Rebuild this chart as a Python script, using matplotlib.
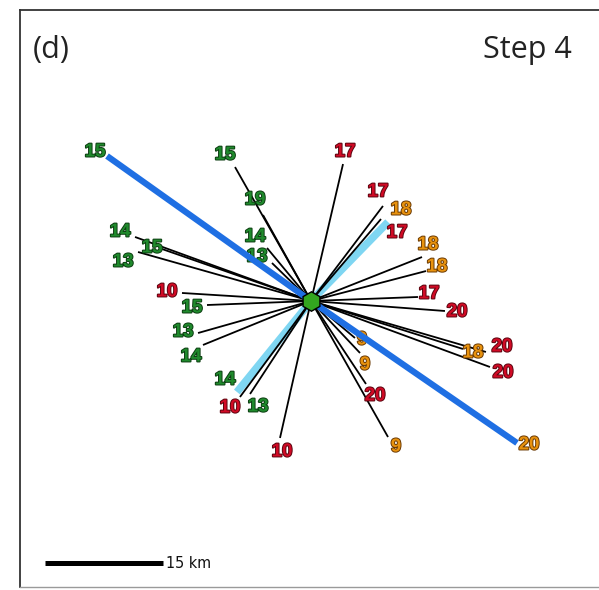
import matplotlib
matplotlib.use("Agg")
import matplotlib.pyplot as plt
import matplotlib.patheffects as pe
import numpy as np

# Ray end points, km east / km north of the epicentre
ray_east = [-9.66, -6.10, -5.59, -4.96, -22.37, -18.94, -21.99, -16.40, -13.22,
            -14.36, -13.73, -9.03, -7.75, -3.94, 4.07, 9.15, 8.90, 14.11, 14.62,
            13.60, 17.03, 19.32, 22.24, 22.75, 5.59, 6.23, 6.99, 9.79]
ray_north = [17.03, 10.93, 6.74, 4.83, 8.14, 6.61, 6.23, 1.02, -0.51,
             -4.07, -5.59, -12.20, -11.82, -17.41, 17.41, 12.08, 10.42, 5.59, 3.81,
             0.51, -1.27, -6.10, -6.48, -8.39, -4.70, -6.61, -10.55, -17.29]
ray_value = [15, 19, 14, 13, 14, 15, 13, 10, 15,
             13, 14, 10, 13, 10, 17, 17, 18, 18, 18,
             17, 20, 18, 20, 20, 9, 9, 20, 9]
ray_class = ["g", "g", "g", "g", "g", "g", "g", "r", "g",
             "g", "g", "r", "g", "r", "r", "r", "o", "o", "o",
             "r", "r", "o", "r", "r", "o", "o", "r", "o"]

# Light-blue highlighted rays
lb_east = [9.79, -9.41]
lb_north = [10.04, -11.57]
lb_value = [17, 14]
lb_class = ["r", "g"]

# Main blue axis rays
blue_east = [-25.93, 26.19]
blue_north = [18.43, -18.05]
blue_value = [15, 20]
blue_class = ["g", "o"]

scale_km = 15

# Label offsets from the ray tip (pixels, x right / y up)
ray_dx = [-10, -8, -12, -15, -15, -10, -15, -15, -15, -15, -12, -10, 8, 2,
          2, -5, 20, 6, 11, 11, 12, 10, 16, 13, 7, 5, 9, 8]
ray_dy = [12, 15, 11, 6, 5, 1, -10, 1, -3, 1, -12, -11, -13, -14,
          12, 14, 9, 12, 4, 3, -1, -4, 5, -6, -2, -12, -12, -10]
lb_dx = [9, -12]
lb_dy = [-11, 12]
blue_dx = [-12, 12]
blue_dy = [4, -2]

colors = {"g": "#1f8a2c", "r": "#d10a25", "o": "#e8920e"}
edge = {"g": "#0d3d12", "r": "#5a0610", "o": "#6a3a05"}

px_per_km = 118 / 15.0
W, H = 599, 590
cx, cy = 311, 301  # epicentre in figure pixels

fig = plt.figure(figsize=(W / 100, H / 100), dpi=100)
left, right, top, bottom = 20, 599, 10, 587
ax = fig.add_axes([left / W, (H - bottom) / H, (right - left) / W, (bottom - top) / H])
ax.set_xlim((left - cx) / px_per_km, (right - cx) / px_per_km)
ax.set_ylim((cy - bottom) / px_per_km, (cy - top) / px_per_km)
ax.set_xticks([])
ax.set_yticks([])
for s in ("left", "top"):
    ax.spines[s].set_color("#333333")
    ax.spines[s].set_linewidth(1.3)
ax.spines["bottom"].set_color("#9a9a9a")
ax.spines["bottom"].set_linewidth(1.0)
ax.spines["right"].set_visible(False)


def label(x, y, v, c, dx, dy, z):
    ax.annotate(str(v), (x, y), xytext=(dx, dy), textcoords="offset pixels",
                ha="center", va="center", fontsize=13.5, fontweight="bold",
                family=["Liberation Sans", "DejaVu Sans"], color=colors[c], zorder=z,
                path_effects=[pe.withStroke(linewidth=1.4, foreground=edge[c])])


for x, y in zip(ray_east, ray_north):
    ax.plot([0, x], [0, y], color="black", lw=1.3, zorder=2, solid_capstyle="butt")
for x, y in zip(lb_east, lb_north):
    ax.plot([0, x], [0, y], color="#7fd6f2", lw=5.5, zorder=1.5, solid_capstyle="butt")

for x, y, v, c, dx, dy in zip(ray_east, ray_north, ray_value, ray_class, ray_dx, ray_dy):
    label(x, y, v, c, dx, dy, 4)
for x, y, v, c, dx, dy in zip(lb_east, lb_north, lb_value, lb_class, lb_dx, lb_dy):
    label(x, y, v, c, dx, dy, 4)

for x, y in zip(blue_east, blue_north):
    ax.plot([0, x], [0, y], color="#1f6fe3", lw=4.5, zorder=5, solid_capstyle="butt")
for x, y, v, c, dx, dy in zip(blue_east, blue_north, blue_value, blue_class, blue_dx, blue_dy):
    label(x, y, v, c, dx, dy, 6)

ax.plot([0], [0], marker="h", ms=14, mfc="#33a61f", mec="black", mew=1.0, zorder=7)

# Scale bar
sb_x0 = (45 - cx) / px_per_km
sb_y = (cy - 563) / px_per_km
ax.plot([sb_x0, sb_x0 + scale_km], [sb_y, sb_y], color="black", lw=3.6,
        solid_capstyle="butt", zorder=3)
ax.text(sb_x0 + scale_km + 0.35, sb_y, f"{scale_km} km", ha="left", va="center",
        fontsize=11.5, fontstretch="condensed",
        family=["Liberation Sans Narrow", "DejaVu Sans"], color="#111111")

fig.text(33 / W, 1 - 50 / H, "(d)", ha="left", va="center", fontsize=22,
         family=["Open Sans", "DejaVu Sans"], color="#222222")
fig.text(572 / W, 1 - 50 / H, "Step 4", ha="right", va="center", fontsize=22,
         family=["Open Sans", "DejaVu Sans"], color="#222222")

fig.savefig("out.png", dpi=100)
